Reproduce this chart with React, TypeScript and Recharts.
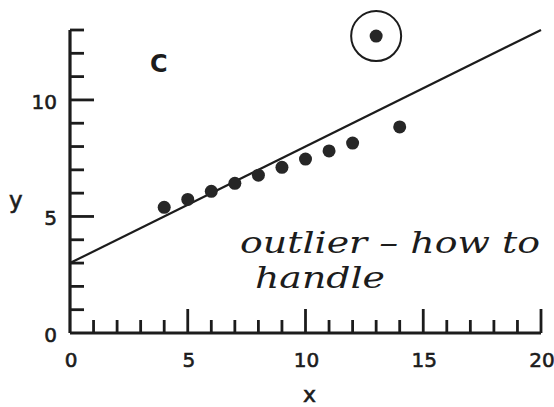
import React from "react";
import {
  ReferenceDot,
  ReferenceLine,
  Scatter,
  ScatterChart,
  XAxis,
  YAxis,
} from "recharts";

// Anscombe set III
const xValues = [10, 8, 13, 9, 11, 14, 6, 4, 12, 7, 5];
const yValues = [7.46, 6.77, 12.74, 7.11, 7.81, 8.84, 6.08, 5.39, 8.15, 6.42, 5.73];

// fitted line y = a + b x
const fitIntercept = 3;
const fitSlope = 0.5;

// the flagged point
const outlierX = 13;
const outlierY = 12.74;

const xTicks = [0, 1, 2, 3, 4, 5, 6, 7, 8, 9, 10, 11, 12, 13, 14, 15, 16, 17, 18, 19, 20];
const yTicks = [0, 1, 2, 3, 4, 5, 6, 7, 8, 9, 10, 11, 12, 13];
const xLabelled = [0, 5, 10, 15, 20];
const yLabelled = [0, 5, 10];

const points = xValues.map((x, i) => ({ x, y: yValues[i] }));
const fitEnds = [0, 20].map((x) => ({ x, y: fitIntercept + fitSlope * x }));

const INK = "#1c1c1c";
const FONT = "'DejaVu Sans', sans-serif";

function XTick(props: any) {
  const { x, y, payload } = props;
  const v = payload.value as number;
  const major = xLabelled.includes(v) && v !== 0;
  return (
    <g>
      {v !== 0 && (
        <line x1={x} x2={x} y1={y} y2={y - (major ? 24 : 13)} stroke={INK} strokeWidth={2.8} />
      )}
      {xLabelled.includes(v) && (
        <text
          x={x + 1}
          y={y + 34}
          textAnchor="middle"
          fontFamily={FONT}
          fontSize={20}
          fill={INK}
          stroke={INK}
          strokeWidth={0.6}
        >
          {v}
        </text>
      )}
    </g>
  );
}

function YTick(props: any) {
  const { x, y, payload } = props;
  const v = payload.value as number;
  const major = yLabelled.includes(v) && v !== 0;
  return (
    <g>
      {v !== 0 && (
        <line x1={x} x2={x + (major ? 24 : 14)} y1={y} y2={y} stroke={INK} strokeWidth={2.8} />
      )}
      {yLabelled.includes(v) && (
        <text
          x={x - 13}
          y={y + 9}
          textAnchor="end"
          fontFamily={FONT}
          fontSize={20}
          fill={INK}
          stroke={INK}
          strokeWidth={0.6}
        >
          {v}
        </text>
      )}
    </g>
  );
}

export default function App() {
  return (
    <div style={{ position: "fixed", left: 0, top: 0, background: "#fff" }}>
      <ScatterChart
        width={554}
        height={407}
        margin={{ top: 30, right: 13, left: 0, bottom: 0 }}
      >
        <XAxis
          type="number"
          dataKey="x"
          domain={[0, 20]}
          ticks={xTicks}
          interval={0}
          height={74}
          tickSize={0}
          tickMargin={0}
          tickLine={false}
          tick={<XTick />}
          axisLine={{ stroke: INK, strokeWidth: 3.2 }}
        />
        <YAxis
          type="number"
          dataKey="y"
          domain={[0, 13]}
          ticks={yTicks}
          interval={0}
          width={70}
          tickSize={0}
          tickMargin={0}
          tickLine={false}
          tick={<YTick />}
          axisLine={{ stroke: INK, strokeWidth: 3.2 }}
        />
        <ReferenceLine
          segment={fitEnds}
          stroke={INK}
          strokeWidth={2.2}
          ifOverflow="visible"
        />
        <Scatter
          data={points}
          fill="#262626"
          isAnimationActive={false}
          shape={(p: any) => <circle cx={p.cx} cy={p.cy} r={6.5} fill="#262626" />}
        />
        <ReferenceDot
          x={outlierX}
          y={outlierY}
          r={25}
          fill="none"
          stroke={INK}
          strokeWidth={2}
          ifOverflow="visible"
        />
        <text x={150} y={72} fontFamily={FONT} fontWeight="bold" fontSize={24} fill={INK}>
          C
        </text>
        <text x={9} y={208} fontFamily={FONT} fontSize={23} fill={INK} stroke={INK} strokeWidth={0.6}>
          y
        </text>
        <text x={303} y={402} fontFamily={FONT} fontSize={22} fill={INK} stroke={INK} strokeWidth={0.6}>
          x
        </text>
        <text
          x={240}
          y={253}
          fontFamily="'DejaVu Serif', serif"
          fontStyle="italic"
          fontSize={30}
          textLength={300}
          lengthAdjust="spacingAndGlyphs"
          fill={INK}
        >
          outlier – how to
        </text>
        <text
          x={255}
          y={288}
          fontFamily="'DejaVu Serif', serif"
          fontStyle="italic"
          fontSize={30}
          textLength={130}
          lengthAdjust="spacingAndGlyphs"
          fill={INK}
        >
          handle
        </text>
      </ScatterChart>
    </div>
  );
}
